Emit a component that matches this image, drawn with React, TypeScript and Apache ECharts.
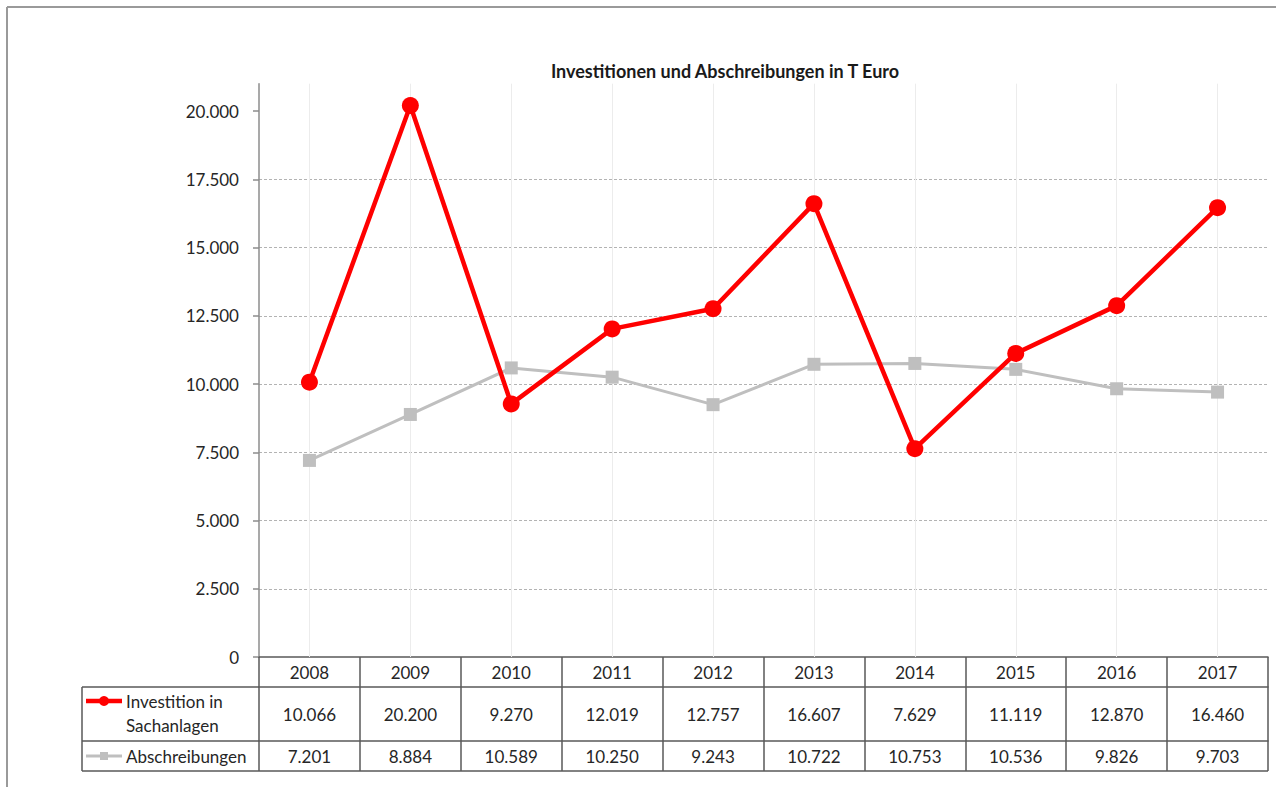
import React, { useEffect, useRef } from "react";
import * as echarts from "echarts";

const title = "Investitionen und Abschreibungen in T Euro";
const years = ["2008", "2009", "2010", "2011", "2012", "2013", "2014", "2015", "2016", "2017"];
const investName = "Investition in\nSachanlagen";
const abschrName = "Abschreibungen";
const invest = [10066, 20200, 9270, 12019, 12757, 16607, 7629, 11119, 12870, 16460];
const abschr = [7201, 8884, 10589, 10250, 9243, 10722, 10753, 10536, 9826, 9703];
const yTicks = [0, 2500, 5000, 7500, 10000, 12500, 15000, 17500, 20000];

const FONT = "Lato";
const fmt = (v: number) => String(v).replace(/\B(?=(\d{3})+(?!\d))/g, ".");

export default function App() {
  const ref = useRef<HTMLDivElement>(null);
  useEffect(() => {
    if (!ref.current) return;
    const chart = echarts.init(ref.current, null, { renderer: "svg" });
    const gridLeft = 259;
    const gridRight = 1268;
    const axisY = 657;
    const row1 = 687;
    const row2 = 741;
    const bottom = 771;
    const tableLine = { color: "#595959", width: 1.5 };
    const labelStyle = { color: "#262626", fontFamily: FONT, fontSize: 17 };
    const nameLines = investName.split("\n");
    chart.setOption({
      animation: false,
      textStyle: { fontFamily: FONT },
      title: {
        text: title,
        left: 720,
        textAlign: "center",
        top: 57,
        textStyle: { fontFamily: FONT, fontSize: 18, fontWeight: "bold", color: "#1a1a1a" },
      },
      grid: { left: gridLeft, right: 1276 - gridRight, top: 83.7, bottom: 787 - axisY, containLabel: false },
      xAxis: [
        {
          type: "category",
          data: years,
          position: "bottom",
          boundaryGap: true,
          axisLine: { lineStyle: tableLine },
          axisTick: { show: true, length: row1 - axisY, interval: 0, lineStyle: tableLine },
          axisLabel: { ...labelStyle, interval: 0, margin: (row1 - axisY) / 2, verticalAlign: "middle" },
          splitLine: { show: false },
        },
        {
          type: "category",
          data: invest.map(fmt),
          position: "bottom",
          offset: row1 - axisY,
          boundaryGap: true,
          axisLine: { lineStyle: tableLine },
          axisTick: { show: true, length: row2 - row1, interval: 0, lineStyle: tableLine },
          axisLabel: { ...labelStyle, interval: 0, margin: (row2 - row1) / 2, verticalAlign: "middle" },
          splitLine: { show: false },
        },
        {
          type: "category",
          data: abschr.map(fmt),
          position: "bottom",
          offset: row2 - axisY,
          boundaryGap: true,
          axisLine: { lineStyle: tableLine },
          axisTick: { show: true, length: bottom - row2, interval: 0, lineStyle: tableLine },
          axisLabel: { ...labelStyle, interval: 0, margin: (bottom - row2) / 2, verticalAlign: "middle" },
          splitLine: { show: false },
        },
      ],
      yAxis: {
        type: "value",
        min: 0,
        max: 21000,
        interval: 2500,
        axisLine: { show: true, lineStyle: { color: "#8c8c8c", width: 1.5 } },
        axisTick: { show: true, length: 6, customValues: yTicks, lineStyle: { color: "#8c8c8c", width: 1.5 } },
        axisLabel: {
          ...labelStyle,
          margin: 20,
          customValues: yTicks,
          formatter: (v: number) => fmt(v),
        },
        splitLine: {
          show: true,
          showMaxLine: false,
          showMinLine: false,
          lineStyle: { color: "#b3b3b3", type: [3, 2], width: 1 },
        },
      },
      series: [
        {
          name: abschrName,
          type: "line",
          data: abschr,
          symbol: "rect",
          symbolSize: 13,
          lineStyle: { color: "#bfbfbf", width: 3 },
          itemStyle: { color: "#bfbfbf" },
          z: 3,
          clip: false,
          markLine: {
            silent: true,
            symbol: "none",
            label: { show: false },
            lineStyle: { color: "#ececec", type: "solid", width: 1 },
            data: years.map((y) => ({ xAxis: y })),
            z: 1,
          },
        },
        {
          name: investName,
          type: "line",
          data: invest,
          symbol: "circle",
          symbolSize: 17,
          lineStyle: { color: "#ff0000", width: 4.5 },
          itemStyle: { color: "#ff0000" },
          z: 4,
          clip: false,
        },
      ],
      graphic: [
        { type: "line", shape: { x1: 7, y1: 7, x2: 1276, y2: 7 }, style: { stroke: "#9a9a9a", lineWidth: 2 } },
        { type: "line", shape: { x1: 7, y1: 7, x2: 7, y2: 787 }, style: { stroke: "#9a9a9a", lineWidth: 2 } },
        { type: "line", shape: { x1: 82, y1: row1, x2: gridLeft, y2: row1 }, style: { stroke: "#595959", lineWidth: 1.5 } },
        { type: "line", shape: { x1: 82, y1: row2, x2: gridLeft, y2: row2 }, style: { stroke: "#595959", lineWidth: 1.5 } },
        { type: "line", shape: { x1: 82, y1: bottom, x2: gridRight, y2: bottom }, style: { stroke: "#595959", lineWidth: 1.5 } },
        { type: "line", shape: { x1: 82, y1: row1, x2: 82, y2: bottom }, style: { stroke: "#595959", lineWidth: 1.5 } },
        // legend icons
        { type: "line", shape: { x1: 86, y1: 701, x2: 122, y2: 701 }, style: { stroke: "#ff0000", lineWidth: 4.5 } },
        { type: "circle", shape: { cx: 104, cy: 701, r: 5 }, style: { fill: "#ff0000" } },
        { type: "line", shape: { x1: 86, y1: 756, x2: 122, y2: 756 }, style: { stroke: "#bfbfbf", lineWidth: 3 } },
        { type: "rect", shape: { x: 100, y: 752, width: 8, height: 8 }, style: { fill: "#bfbfbf" } },
        {
          type: "text",
          x: 126,
          y: 701,
          style: { text: nameLines[0], fill: "#262626", font: `17px ${FONT}`, textVerticalAlign: "middle" },
        },
        {
          type: "text",
          x: 126,
          y: 725,
          style: { text: nameLines[1], fill: "#262626", font: `17px ${FONT}`, textVerticalAlign: "middle" },
        },
        {
          type: "text",
          x: 126,
          y: 756,
          style: { text: abschrName, fill: "#262626", font: `17px ${FONT}`, textVerticalAlign: "middle" },
        },
      ],
    });
    return () => chart.dispose();
  }, []);
  return (
    <div
      ref={ref}
      style={{ position: "fixed", left: 0, top: 0, width: 1276, height: 787, background: "#fff" }}
    />
  );
}
